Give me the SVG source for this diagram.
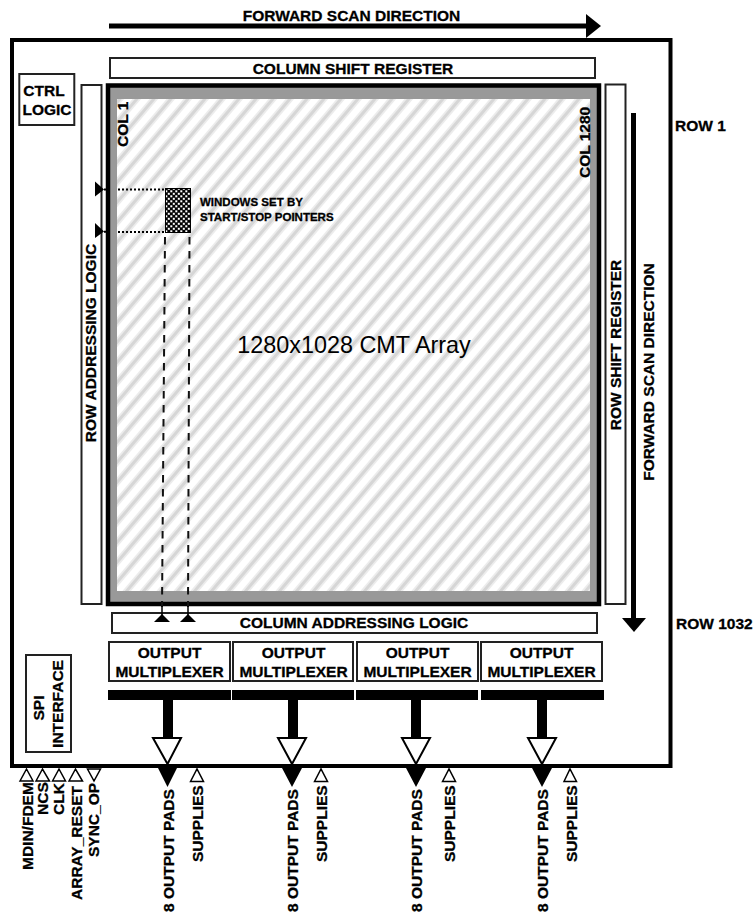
<svg xmlns="http://www.w3.org/2000/svg" width="754" height="914" viewBox="0 0 754 914">
<style>
text{font-family:"Liberation Sans",Arial,sans-serif;font-weight:bold;font-size:15.500px;fill:#000;stroke:#000;stroke-width:0.300;text-anchor:middle}
.b{fill:#fff;stroke:#222;stroke-width:2}
.s{text-anchor:start}
.wt{fill:#fff;stroke:#000;stroke-width:2}
.p{fill:#fff;stroke:#000;stroke-width:1.500}
</style>
<defs>
<pattern id="hatch" width="17" height="20" patternUnits="userSpaceOnUse">
<rect width="17" height="20" fill="#fff"/>
<path d="M-4.250 5L4.250-5M-4.250 25L21.250-5M12.750 25L21.250 15" stroke="#ececec" stroke-width="6.500"/>
<path d="M-4.250 5L4.250-5M-4.250 25L21.250-5M12.750 25L21.250 15" stroke="#d6d6d6" stroke-width="3"/>
</pattern>
<pattern id="check" width="5" height="5" patternUnits="userSpaceOnUse">
<rect width="5" height="5" fill="#000"/>
<rect x="0.300" y="0.300" width="2" height="2" fill="#fff"/>
<rect x="2.800" y="2.800" width="2" height="2" fill="#fff"/>
</pattern>
</defs>
<rect width="754" height="914" fill="#fff"/>
<g id="frame"><rect x="12" y="40" width="658.500" height="726" fill="#fff" stroke="#000" stroke-width="4"/></g>
<g id="array">
<rect x="108" y="85.500" width="491" height="518.500" fill="#999" stroke="#000" stroke-width="4.500"/>
<rect x="117" y="99" width="473" height="492" fill="url(#hatch)"/>
<text x="354" y="353" style="font-size:23.400px;font-weight:normal;stroke:none">1280x1028 CMT Array</text>
<text transform="translate(128 147) rotate(-90)" class="s">COL 1</text>
<text transform="translate(590 178) rotate(-90)" class="s">COL 1280</text>
</g>
<g id="column-shift-register"><rect class="b" x="110" y="58" width="485" height="20"/><text x="353" y="73.500">COLUMN SHIFT REGISTER</text></g>
<g id="ctrl-logic"><rect class="b" x="19.300" y="74" width="55" height="51"/><text x="44" y="96">CTRL</text><text x="47" y="115">LOGIC</text></g>
<g id="row-addressing-logic"><rect class="b" x="81.500" y="85" width="20" height="519"/><text transform="translate(96 343) rotate(-90)">ROW ADDRESSING LOGIC</text></g>
<g id="row-shift-register"><rect class="b" x="605.500" y="84.500" width="20" height="519.500"/><text transform="translate(620.500 345) rotate(-90)">ROW SHIFT REGISTER</text></g>
<g id="column-addressing-logic"><rect class="b" x="112" y="613" width="485" height="20"/><text x="354" y="628">COLUMN ADDRESSING LOGIC</text></g>
<g id="mux-1"><rect class="b" x="109" y="642" width="121" height="39"/><text x="169.500" y="658">OUTPUT</text><text x="169.500" y="677">MULTIPLEXER</text></g>
<g id="mux-2"><rect class="b" x="233" y="642" width="120" height="39"/><text x="293.500" y="658">OUTPUT</text><text x="293.500" y="677">MULTIPLEXER</text></g>
<g id="mux-3"><rect class="b" x="357" y="642" width="121" height="39"/><text x="417.500" y="658">OUTPUT</text><text x="417.500" y="677">MULTIPLEXER</text></g>
<g id="mux-4"><rect class="b" x="481" y="642" width="121" height="39"/><text x="541.500" y="658">OUTPUT</text><text x="541.500" y="677">MULTIPLEXER</text></g>
<g id="spi-interface"><rect class="b" x="26" y="655" width="45" height="97"/><text transform="translate(44 708) rotate(-90)">SPI</text><text transform="translate(63 704) rotate(-90)">INTERFACE</text></g>
<g id="window">
<rect x="165.500" y="188.500" width="25" height="44" fill="url(#check)" stroke="#000"/>
<text x="200" y="206" class="s" style="font-size:11.500px">WINDOWS SET BY</text>
<text x="200" y="220.500" class="s" style="font-size:11.500px">START/STOP POINTERS</text>
</g>
<g id="labels">
<text x="351.500" y="20.500">FORWARD SCAN DIRECTION</text>
<text transform="translate(654 372) rotate(-90)">FORWARD SCAN DIRECTION</text>
<text x="675" y="130.500" class="s">ROW 1</text>
<text x="676" y="629" class="s">ROW 1032</text>
</g>
<g id="connectors">
<path d="M109 26H587" stroke="#000" stroke-width="5"/><path d="M586 14L601 26L586 38Z"/>
<path d="M633.500 113V620" stroke="#000" stroke-width="5"/><path d="M622 618H646L634 632Z"/>
<path d="M118 189.500H165M118 232H165" stroke="#000" stroke-width="2" stroke-dasharray="2 2"/>
<path d="M104 189.500H108M104 231.700H108" stroke="#000" stroke-width="2"/>
<path d="M95 181.500L104 189.500L95 196.500ZM95 223L104 231.500L95 238Z"/>
<path d="M165 237L162 607M189.500 237L188 607" stroke="#111" stroke-width="2" stroke-dasharray="7.500 6.500"/>
<path d="M162 606V615M188 606V615" stroke="#000" stroke-width="1.500"/>
<path d="M154 622L162 614L170 622ZM180 622L188 614L196 622Z"/>
<g id="bars">
<rect x="108" y="690" width="123" height="10"/><rect x="232" y="690" width="122" height="10"/><rect x="356" y="690" width="122" height="10"/><rect x="481" y="690" width="123" height="10"/>
<rect x="163" y="700" width="10" height="40"/><rect x="288" y="700" width="10" height="40"/><rect x="411" y="700" width="10" height="40"/><rect x="537" y="700" width="10" height="40"/>
<path d="M158 768H177L167.500 787ZM282 768H302L292 787ZM406 768H426L416 787ZM532 768H552L542 787Z"/>
<path class="wt" d="M153 738H181L167.500 764ZM278 738H306L292 764ZM402 738H430L416 764ZM528 738H556L542 764Z"/>
</g>
<path class="p" d="M20 781L26.500 769L33 781ZM36 781L42.500 769L49.500 781ZM52.500 781L59 769L65.500 781ZM69 781L75.500 769L82.500 781ZM87.500 769H100.500L94 781Z"/>
<path class="p" d="M190.500 781.500L197 769L203.500 781.500ZM314.500 781.500L321 769L327.500 781.500ZM442.500 781.500L449 769L455.500 781.500ZM564 781.500L570 769L576.500 781.500Z"/>
</g>
<g id="pin-labels">
<text transform="translate(32.500 870) rotate(-90)" class="s">MDIN/FDEM</text>
<text transform="translate(48 815) rotate(-90)" class="s">NCS</text>
<text transform="translate(64 815) rotate(-90)" class="s">CLK</text>
<text transform="translate(81.500 900) rotate(-90)" class="s">ARRAY_RESET</text>
<text transform="translate(99 857) rotate(-90)" class="s">SYNC_OP</text>
<text transform="translate(173.500 912) rotate(-90)" class="s">8 OUTPUT PADS</text>
<text transform="translate(297.500 912) rotate(-90)" class="s">8 OUTPUT PADS</text>
<text transform="translate(421.500 912) rotate(-90)" class="s">8 OUTPUT PADS</text>
<text transform="translate(548 912) rotate(-90)" class="s">8 OUTPUT PADS</text>
<text transform="translate(203 862) rotate(-90)" class="s">SUPPLIES</text>
<text transform="translate(327 862) rotate(-90)" class="s">SUPPLIES</text>
<text transform="translate(455 862) rotate(-90)" class="s">SUPPLIES</text>
<text transform="translate(577 862) rotate(-90)" class="s">SUPPLIES</text>
</g>
</svg>
